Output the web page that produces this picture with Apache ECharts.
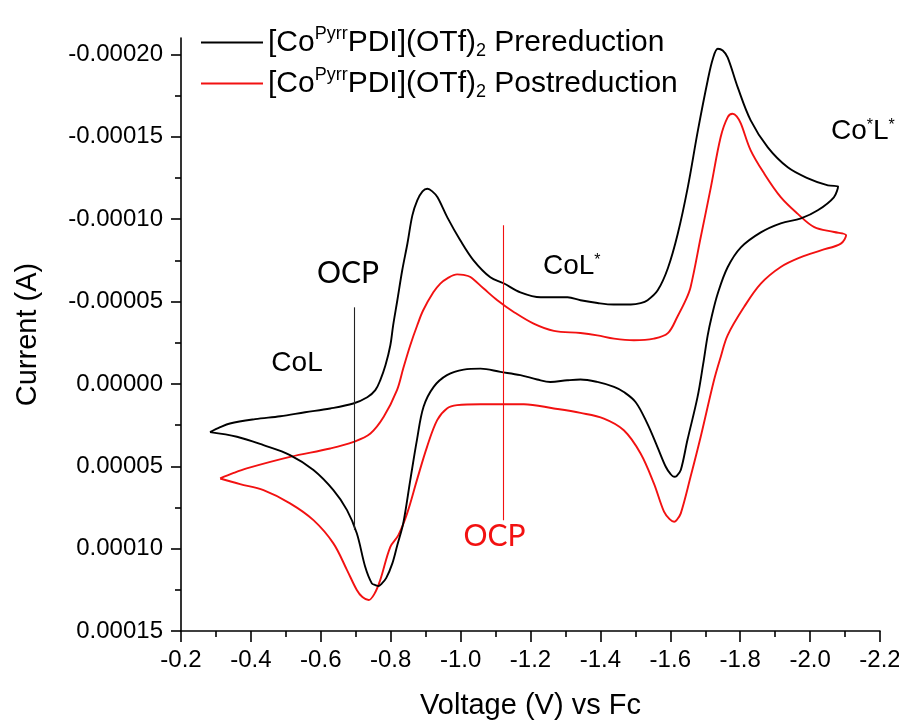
<!DOCTYPE html>
<html>
<head>
<meta charset="utf-8">
<script src="https://cdn.jsdelivr.net/npm/echarts@6/dist/echarts.min.js"></script>
<style>
  html, body { margin: 0; padding: 0; background: #ffffff; }
  #chart { width: 899px; height: 722px; }
</style>
</head>
<body>
<div id="chart"></div>
<script>
// Cyclic voltammograms of [Co(PyrrPDI)](OTf)2 before and after reduction.
// Potentials in V vs Fc, currents in A (loops traced from the switching point at low potential).

const preVoltage = [
  -0.283, -0.312, -0.340, -0.412, -0.484, -0.555, -0.627, -0.693, -0.733, -0.756,
  -0.770, -0.785, -0.799, -0.807, -0.819, -0.833, -0.848, -0.862, -0.876, -0.891,
  -0.905, -0.919, -0.934, -0.962, -0.999, -1.037, -1.085, -1.123, -1.171, -1.229,
  -1.266, -1.306, -1.343, -1.392, -1.438, -1.487, -1.515, -1.535, -1.564, -1.593,
  -1.621, -1.650, -1.679, -1.707, -1.722, -1.736, -1.750, -1.764, -1.793, -1.830,
  -1.879, -1.936, -1.994, -2.051, -2.080,
  -2.068, -2.022, -1.974, -1.916, -1.859, -1.802, -1.764, -1.736, -1.718, -1.707,
  -1.694, -1.678, -1.649, -1.630, -1.618, -1.611, -1.601, -1.587, -1.563, -1.534,
  -1.501, -1.467, -1.439, -1.391, -1.343, -1.305, -1.257, -1.219, -1.171, -1.114,
  -1.057, -1.009, -0.961, -0.923, -0.894, -0.875, -0.856, -0.836, -0.819, -0.805,
  -0.787, -0.773, -0.765, -0.756, -0.746, -0.727, -0.703, -0.675, -0.636, -0.579,
  -0.512, -0.436, -0.360, -0.283
];
const preCurrent = [
  29.3e-6, 26.3e-6, 24.0e-6, 21.4e-6, 19.6e-6, 17.2e-6, 14.9e-6, 11.9e-6, 8.1e-6, 3.8e-6,
  -2.2e-6, -11.3e-6, -23.5e-6, -35.6e-6, -50.8e-6, -69.0e-6, -85.4e-6, -102.3e-6, -111.4e-6, -116.9e-6,
  -118.5e-6, -116.9e-6, -113.3e-6, -101.1e-6, -87.2e-6, -75.0e-6, -64.7e-6, -61.1e-6, -55.6e-6, -52.6e-6,
  -52.6e-6, -52.6e-6, -50.8e-6, -49.1e-6, -48.2e-6, -48.2e-6, -49.0e-6, -50.8e-6, -56.8e-6, -70.2e-6,
  -90.8e-6, -119.3e-6, -153.9e-6, -184.2e-6, -197.6e-6, -203.5e-6, -202.4e-6, -198.2e-6, -180.0e-6, -160.0e-6,
  -143.6e-6, -131.5e-6, -124.8e-6, -120.5e-6, -119.9e-6,
  -113.3e-6, -105.4e-6, -100.5e-6, -97.5e-6, -92.0e-6, -82.9e-6, -70.8e-6, -55.0e-6, -40.5e-6, -29.5e-6,
  -12.0e-6, 7.9e-6, 34.1e-6, 52.3e-6, 56.0e-6, 56.4e-6, 54.8e-6, 50.3e-6, 38.2e-6, 24.0e-6,
  11.1e-6, 4.9e-6, 1.8e-6, -1.2e-6, -2.7e-6, -2.2e-6, -1.2e-6, -2.7e-6, -5.3e-6, -7.3e-6,
  -9.3e-6, -8.7e-6, -5.3e-6, 1.8e-6, 13.9e-6, 34.1e-6, 58.4e-6, 84.5e-6, 97.8e-6, 108.8e-6,
  117.9e-6, 121.5e-6, 122.7e-6, 122.1e-6, 121.1e-6, 111.0e-6, 90.7e-6, 76.6e-6, 64.5e-6, 52.3e-6,
  43.2e-6, 37.2e-6, 32.1e-6, 29.3e-6
];

const postVoltage = [
  -0.312, -0.349, -0.388, -0.512, -0.627, -0.694, -0.742, -0.780, -0.818, -0.836,
  -0.856, -0.876, -0.893, -0.922, -0.942, -0.962, -0.990, -1.008, -1.028, -1.066,
  -1.105, -1.152, -1.209, -1.267, -1.343, -1.391, -1.439, -1.496, -1.553, -1.593,
  -1.621, -1.644, -1.658, -1.687, -1.716, -1.744, -1.764, -1.778, -1.790, -1.802,
  -1.830, -1.869, -1.916, -1.964, -2.012, -2.069, -2.103,
  -2.088, -2.031, -1.974, -1.916, -1.859, -1.811, -1.764, -1.744, -1.725, -1.687,
  -1.658, -1.630, -1.618, -1.611, -1.598, -1.582, -1.553, -1.515, -1.467, -1.410,
  -1.343, -1.267, -1.181, -1.057, -0.990, -0.961, -0.933, -0.904, -0.875, -0.847,
  -0.822, -0.799, -0.770, -0.753, -0.737, -0.719, -0.703, -0.675, -0.636, -0.579,
  -0.512, -0.436, -0.369, -0.312
];
const postCurrent = [
  57.4e-6, 54.2e-6, 51.3e-6, 44.3e-6, 39.2e-6, 35.2e-6, 30.1e-6, 20.0e-6, 3.8e-6, -9.5e-6,
  -23.5e-6, -35.6e-6, -44.7e-6, -55.6e-6, -60.9e-6, -64.1e-6, -66.5e-6, -66.2e-6, -64.9e-6, -57.9e-6,
  -50.8e-6, -43.7e-6, -36.6e-6, -32.2e-6, -30.9e-6, -29.5e-6, -27.5e-6, -26.5e-6, -27.5e-6, -30.8e-6,
  -41.1e-6, -50.8e-6, -58.7e-6, -89.0e-6, -119.3e-6, -149.7e-6, -161.8e-6, -164.0e-6, -162.4e-6, -158.0e-6,
  -141.8e-6, -127.6e-6, -113.4e-6, -103.4e-6, -95.2e-6, -92.2e-6, -90.2e-6,
  -85.2e-6, -81.1e-6, -77.0e-6, -71.0e-6, -60.9e-6, -46.7e-6, -29.5e-6, -16.2e-6, -2.2e-6, 32.1e-6,
  56.4e-6, 78.6e-6, 82.7e-6, 83.7e-6, 82.1e-6, 77.6e-6, 60.4e-6, 42.2e-6, 28.1e-6, 21.0e-6,
  17.6e-6, 14.9e-6, 12.3e-6, 12.3e-6, 12.9e-6, 14.9e-6, 22.0e-6, 38.2e-6, 58.4e-6, 78.6e-6,
  91.8e-6, 98.9e-6, 119.1e-6, 127.6e-6, 131.2e-6, 129.4e-6, 125.1e-6, 113.0e-6, 96.8e-6, 82.7e-6,
  72.5e-6, 64.5e-6, 60.8e-6, 57.4e-6
];

// Open-circuit potential markers: potential and the current span of each marker line
const ocpPreLine = [-0.696, -46.5e-6, 88.7e-6];
const ocpPostLine = [-1.123, -96.3e-6, 82.7e-6];

// Current axis tick values (axis runs with negative currents upward)
const currentTicks = [-0.00020, -0.00015, -0.00010, -0.00005, 0, 0.00005, 0.00010, 0.00015];
const currentMinorTicks = [-0.000175, -0.000125, -0.000075, -0.000025, 0.000025, 0.000075, 0.000125];

const seriesNames = ['[CoPyrrPDI](OTf)2 Prereduction', '[CoPyrrPDI](OTf)2 Postreduction'];
const legendRich = [
  '{n|[Co}{sup|Pyrr}{n|PDI](OTf)}{sub|2}{n| Prereduction}',
  '{n|[Co}{sup|Pyrr}{n|PDI](OTf)}{sub|2}{n| Postreduction}'
];

const FONT = '"Liberation Sans", Arial, sans-serif';
const LABEL_FONT = 'Lato, "Open Sans", sans-serif';
const BLACK = '#000000';
const RED = '#f21111';

function pairs(xs, ys) {
  return xs.map((x, k) => [x, ys[k]]);
}

function textMark(text, v, i, color, family, size) {
  return {
    coord: [v, i],
    symbol: 'circle',
    symbolSize: 0,
    itemStyle: { color: 'rgba(0,0,0,0)' },
    label: {
      show: true,
      position: 'inside',
      formatter: text,
      color: color,
      rich: {
        a: { fontFamily: family, fontSize: size, color: color },
        s: { fontFamily: family, fontSize: 16, color: color, verticalAlign: 'top', lineHeight: 15 }
      }
    }
  };
}

const chart = echarts.init(document.getElementById('chart'), null, { renderer: 'canvas' });

chart.setOption({
  animation: false,
  backgroundColor: '#ffffff',
  grid: { left: 181, right: 19, top: 38, bottom: 91, containLabel: false, outerBoundsMode: 'none' },
  legend: {
    orient: 'vertical',
    left: 196,
    top: 20,
    icon: 'rect',
    itemWidth: 62,
    itemHeight: 2,
    itemGap: 6,
    selectedMode: false,
    data: seriesNames,
    formatter: name => legendRich[seriesNames.indexOf(name)],
    textStyle: {
      color: '#000',
      fontFamily: FONT,
      rich: {
        n: { fontFamily: FONT, fontSize: 30, lineHeight: 35, color: '#000' },
        sup: { fontFamily: FONT, fontSize: 18, lineHeight: 16, verticalAlign: 'top', color: '#000' },
        sub: { fontFamily: FONT, fontSize: 18, lineHeight: 16, verticalAlign: 'bottom', color: '#000' }
      }
    }
  },
  xAxis: {
    type: 'value',
    inverse: true,
    min: -2.2,
    max: -0.2,
    interval: 0.2,
    name: 'Voltage (V) vs Fc',
    nameLocation: 'middle',
    nameGap: 60,
    nameTextStyle: { fontFamily: FONT, fontSize: 29, color: '#000' },
    axisLine: { show: true, onZero: false, lineStyle: { color: '#000', width: 1.6 } },
    axisTick: { show: true, inside: false, length: 11, lineStyle: { color: '#000', width: 1.6 } },
    minorTick: { show: true, splitNumber: 2, length: 6, lineStyle: { color: '#000', width: 1.6 } },
    axisLabel: {
      margin: 17,
      fontFamily: FONT,
      fontSize: 24,
      color: '#000',
      formatter: v => v.toFixed(1)
    },
    splitLine: { show: false }
  },
  yAxis: [
    {
      type: 'value',
      inverse: true,
      min: -0.00021,
      max: 0.00015,
      position: 'left',
      name: 'Current (A)',
      nameLocation: 'middle',
      nameGap: 139,
      nameTextStyle: { fontFamily: FONT, fontSize: 29, color: '#000' },
      axisLine: { show: true, onZero: false, lineStyle: { color: '#000', width: 1.6 } },
      axisTick: {
        show: true, inside: false, length: 10,
        customValues: currentTicks,
        lineStyle: { color: '#000', width: 1.6 }
      },
      axisLabel: {
        margin: 18,
        fontFamily: FONT,
        fontSize: 24,
        color: '#000',
        customValues: currentTicks,
        formatter: v => v.toFixed(5)
      },
      splitLine: { show: false }
    },
    {
      type: 'value',
      inverse: true,
      min: -0.00021,
      max: 0.00015,
      position: 'left',
      axisLine: { show: false },
      axisTick: {
        show: true, inside: false, length: 6,
        customValues: currentMinorTicks,
        lineStyle: { color: '#000', width: 1.6 }
      },
      axisLabel: { show: false },
      splitLine: { show: false }
    }
  ],
  series: [
    {
      name: seriesNames[0],
      type: 'line',
      data: pairs(preVoltage, preCurrent),
      symbol: 'none',
      smooth: 0.35,
      color: BLACK,
      lineStyle: { color: BLACK, width: 1.9 },
      z: 3,
      markLine: {
        silent: true,
        symbol: ['none', 'none'],
        label: { show: false },
        lineStyle: { color: '#222', width: 1.1, type: 'solid' },
        data: [[{ coord: [ocpPreLine[0], ocpPreLine[1]] }, { coord: [ocpPreLine[0], ocpPreLine[2]] }]]
      },
      markPoint: {
        silent: true,
        data: [
          textMark('{a|CoL}', -0.532, -12.6e-6, '#000', FONT, 28),
          textMark('{a|OCP}', -0.678, -67.2e-6, '#000', LABEL_FONT, 30),
          textMark('{a|CoL}{s|*}', -1.318, -71.4e-6, '#000', FONT, 28),
          textMark('{a|Co}{s|*}{a|L}{s|*}', -2.151, -153.3e-6, '#000', FONT, 28)
        ]
      }
    },
    {
      name: seriesNames[1],
      type: 'line',
      data: pairs(postVoltage, postCurrent),
      symbol: 'none',
      smooth: 0.35,
      color: RED,
      lineStyle: { color: RED, width: 1.9 },
      z: 2,
      markLine: {
        silent: true,
        symbol: ['none', 'none'],
        label: { show: false },
        lineStyle: { color: RED, width: 1.1, type: 'solid' },
        data: [[{ coord: [ocpPostLine[0], ocpPostLine[1]] }, { coord: [ocpPostLine[0], ocpPostLine[2]] }]]
      },
      markPoint: {
        silent: true,
        data: [
          textMark('{a|OCP}', -1.097, 92.7e-6, RED, LABEL_FONT, 30)
        ]
      }
    }
  ]
});
</script>
</body>
</html>
